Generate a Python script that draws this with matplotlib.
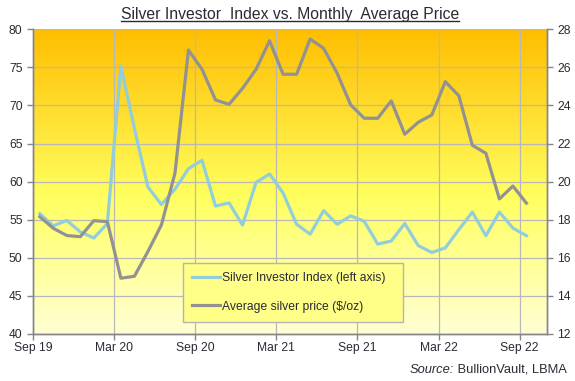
import matplotlib.pyplot as plt
import numpy as np
from matplotlib.lines import Line2D

plt.rcParams['font.family'] = ['Liberation Sans', 'DejaVu Sans']

# monthly data, Sep 2019 .. Sep 2022
index_vals = [55.8, 54.2, 54.9, 53.4, 52.6, 54.5, 75.2, 67.0, 59.3, 57.0,
              59.0, 61.7, 62.8, 56.8, 57.2, 54.3, 59.9, 61.0, 58.5, 54.4,
              53.1, 56.2, 54.4, 55.5, 54.8, 51.8, 52.2, 54.5, 51.6, 50.7,
              51.3, 53.7, 56.0, 52.9, 56.0, 53.9, 52.9]
price_vals = [18.16, 17.55, 17.17, 17.11, 17.95, 17.9, 14.93, 15.03, 16.33, 17.73,
              20.44, 26.91, 25.9, 24.29, 24.06, 24.9, 25.9, 27.4, 25.64, 25.64,
              27.49, 27.0, 25.69, 24.03, 23.33, 23.33, 24.24, 22.49, 23.12, 23.5,
              25.25, 24.51, 21.91, 21.49, 19.09, 19.77, 18.87]
tick_labels = ['Sep 19', 'Mar 20', 'Sep 20', 'Mar 21', 'Sep 21', 'Mar 22', 'Sep 22']

blue = '#92CDDC'
grey = '#929292'
axcol = '#868686'
txtcol = '#2a2a35'

x = np.arange(len(index_vals))

fig = plt.figure(figsize=(5.75, 3.81), dpi=100)
ax = fig.add_axes([0.0574, 0.1234, 0.8934, 0.7997])

# background gradient (orange at top -> pale yellow at bottom)
stops = [(0.0, (255, 190, 0)), (0.55, (255, 255, 95)), (1.0, (255, 255, 212))]
t = np.linspace(0, 1, 256)
grad = np.zeros((256, 1, 3))
for c in range(3):
    grad[:, 0, c] = np.interp(t, [s[0] for s in stops], [s[1][c] / 255 for s in stops])
ax.imshow(grad, extent=[0, 1, 0, 1], transform=ax.transAxes, aspect='auto',
          zorder=0, interpolation='bilinear')

ax.plot(x, index_vals, color=blue, lw=2.3, zorder=3)
ax.set_xlim(-0.5, 37.5)
ax.set_ylim(40, 80)
ax.set_yticks(np.arange(40, 81, 5))
ax.set_xticks(np.arange(-0.5, 36, 6))
ax.set_xticklabels(tick_labels)
ax.grid(True, color='#B8B8B8', lw=0.9, zorder=1)
ax.set_axisbelow(True)

ax2 = ax.twinx()
ax2.plot(x, price_vals, color=grey, lw=2.3, zorder=3)
ax2.set_ylim(12, 28)
ax2.set_yticks(np.arange(12, 29, 2))
ax2.set_xlim(-0.5, 37.5)

for a in (ax, ax2):
    a.spines['top'].set_visible(False)
    for s in ('left', 'right', 'bottom'):
        a.spines[s].set_color(axcol)
        a.spines[s].set_linewidth(1.0)
    a.tick_params(colors=axcol, labelcolor=txtcol, labelsize=8.7, length=4,
                  direction='out', width=1.0)
ax.tick_params(axis='x', pad=2)

handles = [Line2D([], [], color=blue, lw=2.3), Line2D([], [], color=grey, lw=2.3)]
leg = ax2.legend(handles, ['Silver Investor Index (left axis)', 'Average silver price ($/oz)'],
                 loc='lower left', bbox_to_anchor=(0.2926, 0.0404, 0.4271, 0.18),
                 mode='expand', borderaxespad=0, fancybox=False, framealpha=1,
                 facecolor='#FFFF88', edgecolor='#B4B4B4', fontsize=8.7,
                 handlelength=2.3, handletextpad=0.15, labelspacing=1.35,
                 borderpad=0.75, labelcolor=txtcol)
leg.get_frame().set_linewidth(1.0)
leg.set_zorder(10)

title = fig.text(0.504, 0.962, 'Silver Investor  Index vs. Monthly  Average Price',
                 ha='center', va='center', fontsize=11.3, color=txtcol)

src = fig.text(0.986, 0.03, ' BullionVault, LBMA', ha='right', va='center',
               fontsize=9.3, color=txtcol)
ax.annotate('Source:', xy=(0, 0.5), xycoords=src, ha='right', va='center',
            fontsize=9.3, color=txtcol, style='italic', annotation_clip=False)

# underline the title
fig.canvas.draw()
bb = title.get_window_extent().transformed(fig.transFigure.inverted())
uy = bb.y0 + 0.002
fig.add_artist(Line2D([bb.x0, bb.x1], [uy, uy], color=txtcol, lw=1.0,
                      transform=fig.transFigure))

fig.savefig('out.png', dpi=100)
